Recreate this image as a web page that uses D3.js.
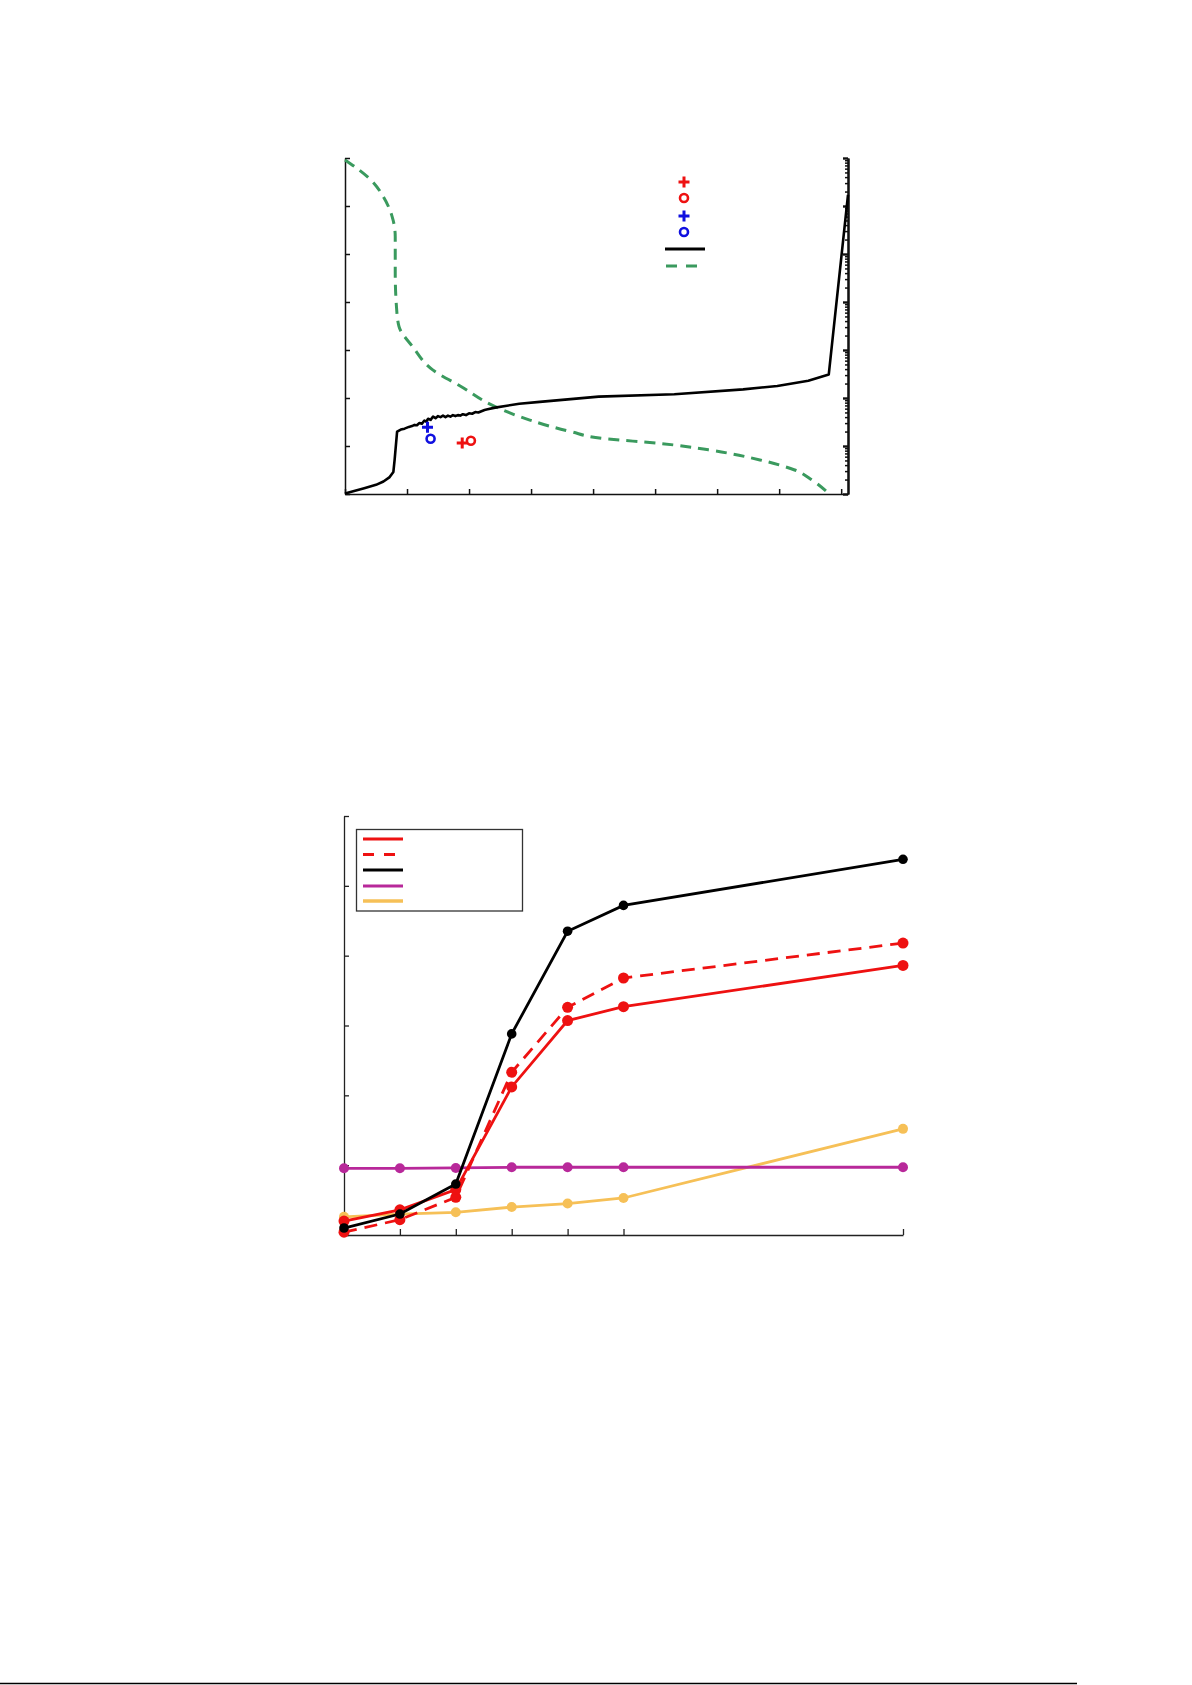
<!DOCTYPE html>
<html>
<head>
<meta charset="utf-8">
<script src="https://cdn.jsdelivr.net/npm/d3@7"></script>
<style>
  html, body { margin: 0; padding: 0; background: #fff; }
  svg { display: block; }
</style>
</head>
<body>
<script>
// ---------------- DATA ----------------
// Top chart: green dashed series (left linear axis)
const greenX = [0, 0.23, 0.42, 0.62, 0.76, 0.81, 0.81, 0.83, 0.87, 1.09, 1.42, 1.87, 2.42, 2.98, 3.64, 4.20, 5.03, 5.86, 6.69, 7.25, 7.53, 7.80];
const greenY = [6.96, 6.75, 6.54, 6.19, 5.78, 5.36, 4.60, 3.90, 3.49, 3.07, 2.58, 2.24, 1.82, 1.54, 1.30, 1.15, 1.06, 0.92, 0.71, 0.50, 0.29, 0.01];
// Top chart: black solid series (right log axis)
const blackX = [0, 0.31, 0.50, 0.62, 0.72, 0.78, 0.80, 0.84, 0.90, 0.96, 1.03, 1.08, 1.12, 1.16, 1.20, 1.24, 1.28, 1.31, 1.34, 1.38, 1.42, 1.46, 1.50, 1.54, 1.58, 1.62, 1.66, 1.70, 1.74, 1.78, 1.82, 1.86, 1.90, 1.95, 2.00, 2.05, 2.10, 2.15, 2.20, 2.25, 2.30, 2.42, 2.81, 3.14, 4.09, 5.31, 6.42, 6.97, 7.47, 7.80, 8.11];
const blackV = [1.02, 1.32, 1.55, 1.82, 2.25, 2.88, 5.13, 20, 22, 23, 25, 26, 27.5, 27, 30, 29, 34, 32, 37, 35, 41, 38, 42, 40, 43, 40, 43, 41, 44, 42, 44, 43, 46, 44, 48, 47, 51, 50, 53, 56, 58, 63, 76, 83, 107, 120, 151, 178, 229, 309, 1.7e6];
// Top chart: isolated markers
const markersTop = [
  { x: 1.33, y: 1.39, shape: "plus",   color: "#1010e0" },
  { x: 1.38, y: 1.15, shape: "circle", color: "#1010e0" },
  { x: 1.89, y: 1.06, shape: "plus",   color: "#ee1111" },
  { x: 2.03, y: 1.11, shape: "circle", color: "#ee1111" }
];
const topXTicks = [0, 1, 2, 3, 4, 5, 6, 7, 8];
const topLeftTicks = [0, 1, 2, 3, 4, 5, 6, 7];

// Bottom chart
const botX = [0, 1, 2, 3, 4, 5, 10];
const serBlack   = [0.10, 0.30, 0.73, 2.88, 4.35, 4.72, 5.38];
const serRed     = [0.20, 0.36, 0.65, 2.12, 3.07, 3.27, 3.86];
const serRedDash = [0.04, 0.22, 0.54, 2.33, 3.26, 3.68, 4.18];
const serMagenta = [0.955, 0.955, 0.96, 0.97, 0.97, 0.97, 0.97];
const serOrange  = [0.26, 0.30, 0.325, 0.40, 0.45, 0.53, 1.52];
const botXTicks = [1, 2, 3, 4, 5, 10];
const botYTicks = [0, 1, 2, 3, 4, 5, 6];

// ---------------- DRAW ----------------
const W = 1192, H = 1685;
const svg = d3.select("body").append("svg").attr("width", W).attr("height", H);

const RED = "#ee1111", BLACK = "#000", MAG = "#b8289a", ORA = "#f6c057", GREEN = "#3a9a5e";

// ===== Top chart =====
const tL = 345, tR = 848, tT = 158, tB = 494;
const xT = d3.scaleLinear().domain([0, 8.11]).range([tL, tR]);
const yTL = d3.scaleLinear().domain([0, 7]).range([tB, tT]);
const yTR = d3.scaleLog().domain([1, 1e7]).range([tB, tT]);

const gTop = svg.append("g");
gTop.append("g").attr("transform", `translate(0,${tB})`)
  .call(d3.axisBottom(xT).tickValues(topXTicks).tickSizeInner(-5).tickSizeOuter(0).tickFormat(""))
  .call(g => g.selectAll("path,line").attr("stroke", "#111").attr("stroke-width", 1.5));
gTop.append("g").attr("transform", `translate(${tL},0)`)
  .call(d3.axisLeft(yTL).tickValues(topLeftTicks).tickSizeInner(-5).tickSizeOuter(0).tickFormat(""))
  .call(g => g.selectAll("path,line").attr("stroke", "#111").attr("stroke-width", 1.5));
const logMajor = d3.range(0, 8).map(e => Math.pow(10, e));
const logMinor = [];
for (let e = 0; e < 7; e++) for (let m = 2; m <= 9; m++) logMinor.push(m * Math.pow(10, e));
gTop.append("g").attr("transform", `translate(${tR},0)`)
  .call(d3.axisRight(yTR).tickValues(logMinor).tickSizeInner(-3).tickSizeOuter(0).tickFormat(""))
  .call(g => g.selectAll("path,line").attr("stroke", "#111").attr("stroke-width", 1.5));
gTop.append("g").attr("transform", `translate(${tR},0)`)
  .call(d3.axisRight(yTR).tickValues(logMajor).tickSizeInner(-5).tickSizeOuter(0).tickFormat(""))
  .call(g => g.selectAll("path,line").attr("stroke", "#111").attr("stroke-width", 2.4));

const greenData = greenX.map((x, i) => [x, greenY[i]]);
gTop.append("path").datum(greenData)
  .attr("d", d3.line().x(d => xT(d[0])).y(d => yTL(d[1])).curve(d3.curveMonotoneY))
  .attr("fill", "none").attr("stroke", GREEN).attr("stroke-width", 3)
  .attr("stroke-dasharray", "11,7");
const blackData = blackX.map((x, i) => [x, blackV[i]]);
gTop.append("path").datum(blackData)
  .attr("d", d3.line().x(d => xT(d[0])).y(d => yTR(d[1])))
  .attr("fill", "none").attr("stroke", BLACK).attr("stroke-width", 2.6)
  .attr("stroke-linejoin", "round");

function drawMarker(g, cx, cy, shape, color) {
  if (shape === "plus") {
    g.append("path").attr("d", `M${cx - 5.5},${cy}H${cx + 5.5}M${cx},${cy - 5.5}V${cy + 5.5}`)
      .attr("stroke", color).attr("stroke-width", 3).attr("fill", "none");
  } else {
    g.append("circle").attr("cx", cx).attr("cy", cy).attr("r", 4)
      .attr("stroke", color).attr("stroke-width", 2.6).attr("fill", "none");
  }
}
markersTop.forEach(m => drawMarker(gTop, xT(m.x), yTL(m.y), m.shape, m.color));

const legTop = gTop.append("g");
const legTopItems = [
  { type: "plus", color: "#ee1111", y: 182 },
  { type: "circle", color: "#ee1111", y: 198 },
  { type: "plus", color: "#1010e0", y: 216 },
  { type: "circle", color: "#1010e0", y: 232 }
];
legTopItems.forEach(it => drawMarker(legTop, 684, it.y, it.type, it.color));
legTop.append("line").attr("x1", 665).attr("x2", 705).attr("y1", 249).attr("y2", 249)
  .attr("stroke", BLACK).attr("stroke-width", 3.2);
legTop.append("line").attr("x1", 666).attr("x2", 697).attr("y1", 266).attr("y2", 266)
  .attr("stroke", GREEN).attr("stroke-width", 3.2).attr("stroke-dasharray", "11,9");

// ===== Bottom chart =====
const bL = 344, bR = 903, bT = 816, bB = 1235;
const xB = d3.scaleLinear().domain([0, 10]).range([bL, bR]);
const yB = d3.scaleLinear().domain([0, 6]).range([bB, bT]);
const gBot = svg.append("g");

gBot.append("g").attr("transform", `translate(0,${bB})`)
  .call(d3.axisBottom(xB).tickValues(botXTicks).tickSizeInner(-6).tickSizeOuter(0).tickFormat(""))
  .call(g => g.selectAll("path,line").attr("stroke", "#222").attr("stroke-width", 1.3));
gBot.append("g").attr("transform", `translate(${bL},0)`)
  .call(d3.axisLeft(yB).tickValues(botYTicks).tickSizeInner(-5).tickSizeOuter(0).tickFormat(""))
  .call(g => g.selectAll("path,line").attr("stroke", "#222").attr("stroke-width", 1.3));

const series = [
  { vals: serOrange,  color: ORA,   dash: null,   r: 5 },
  { vals: serMagenta, color: MAG,   dash: null,   r: 5 },
  { vals: serRedDash, color: RED,   dash: "13,8", r: 5.5 },
  { vals: serRed,     color: RED,   dash: null,   r: 5.5 },
  { vals: serBlack,   color: BLACK, dash: null,   r: 4.8 }
];
const lineB = d3.line().x(d => xB(d[0])).y(d => yB(d[1]));
series.forEach(s => {
  const data = botX.map((x, i) => [x, s.vals[i]]);
  const p = gBot.append("path").datum(data).attr("d", lineB)
    .attr("fill", "none").attr("stroke", s.color).attr("stroke-width", 2.8);
  if (s.dash) p.attr("stroke-dasharray", s.dash);
  gBot.selectAll(null).data(data).enter().append("circle")
    .attr("cx", d => xB(d[0])).attr("cy", d => yB(d[1])).attr("r", s.r)
    .attr("fill", s.color);
});

const legB = gBot.append("g");
legB.append("rect").attr("x", 356.5).attr("y", 829.5).attr("width", 166).attr("height", 81.5)
  .attr("fill", "#fff").attr("stroke", "#333").attr("stroke-width", 1.3);
const legBItems = [
  { color: RED, dash: null, y: 839 },
  { color: RED, dash: "11,10", y: 854.5 },
  { color: BLACK, dash: null, y: 870 },
  { color: MAG, dash: null, y: 886 },
  { color: ORA, dash: null, y: 901 }
];
legBItems.forEach(it => {
  const l = legB.append("line").attr("x1", 363).attr("x2", 403).attr("y1", it.y).attr("y2", it.y)
    .attr("stroke", it.color).attr("stroke-width", it.color === ORA ? 3.4 : 2.8);
  if (it.dash) l.attr("stroke-dasharray", it.dash);
});

svg.append("line").attr("x1", 0).attr("x2", 1077).attr("y1", 1683.5).attr("y2", 1683.5)
  .attr("stroke", "#000").attr("stroke-width", 1.5);
</script>
</body>
</html>
